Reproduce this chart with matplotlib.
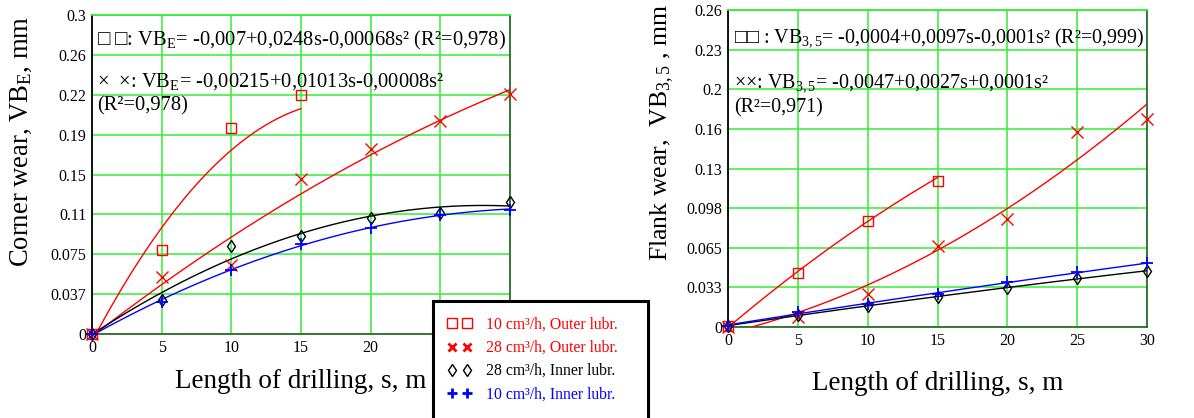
import numpy as np
import matplotlib
matplotlib.use("Agg")
import matplotlib.pyplot as plt
from matplotlib.lines import Line2D
from matplotlib.patches import Rectangle

plt.rcParams['font.family'] = ['Liberation Serif', 'DejaVu Sans']
plt.rcParams['mathtext.fontset'] = 'custom'
plt.rcParams['mathtext.rm'] = 'Liberation Serif'
plt.rcParams['mathtext.it'] = 'Liberation Serif:italic'

s = [0, 5, 10, 15, 20, 25, 30]
s_sq = [0, 5, 10, 15]

# corner wear VB_E, mm
ve_sq = [0.0, 0.079, 0.194, 0.2245]
ve_x = [0.0, 0.0536, 0.065, 0.146, 0.174, 0.2007, 0.226]
ve_dia = [0.0, 0.032, 0.0825, 0.0925, 0.1094, 0.1135, 0.1245]
ve_plus = [0.0, 0.0304, 0.060, 0.0844, 0.100, 0.1122, 0.117]

# flank wear VB_3,5, mm
vf_sq = [0.001, 0.0443, 0.0872, 0.120]
vf_x = [0.0, 0.0085, 0.0268, 0.0667, 0.0886, 0.160, 0.171]
vf_dia = [0.001, 0.0098, 0.0175, 0.0243, 0.0322, 0.0405, 0.0457]
vf_plus = [0.001, 0.0126, 0.0189, 0.0268, 0.0372, 0.0449, 0.0522]

# printed regression coefficients (a + b*s + c*s^2)
coef_ve_sq = [-0.007, 0.0248, -0.00068]
coef_ve_x = [-0.00215, 0.01013, -0.00008]
coef_vf_sq = [-0.0004, 0.0097, -0.0001]

ylim_l = 0.3
ylim_r = 0.26
yticklab_l = ['0', '0.037', '0.075', '0.11', '0.15', '0.19', '0.22', '0.26', '0.3']
yticklab_r = ['0', '0.033', '0.065', '0.098', '0.13', '0.16', '0.2', '0.23', '0.26']
xticklab_l = ['0', '5', '10', '15', '20', '', '']
xticklab_r = ['0', '5', '10', '15', '20', '25', '30']

legend_labels = ['10 cm³/h, Outer lubr.', '28 cm³/h, Outer lubr.',
                 '28 cm³/h, Inner lubr.', '10 cm³/h, Inner lubr.']

RED = '#ff0000'
BLUE = '#0000ff'
GRID = '#33ee33'


def trend(ax, x, y, color, coef=None):
    if coef is None:
        c = np.polyfit(x, y, 2)
    else:
        c = coef[::-1]
    xx = np.linspace(x[0], x[-1], 200)
    ax.plot(xx, np.polyval(c, xx), color=color, lw=1.0, zorder=3)


def setup(ax, ymax, ylabels, xlabels, ylabel, yfs, xpad):
    ax.set_xlim(0, 30)
    ax.set_ylim(0, ymax)
    ax.set_xticks(range(0, 31, 5))
    ax.set_xticklabels(xlabels)
    ax.set_yticks(np.linspace(0, ymax, 9))
    ax.set_yticklabels(ylabels)
    ax.tick_params(length=0, labelsize=11.5, pad=4)
    ax.grid(True, color=GRID, lw=1.1)
    ax.set_axisbelow(True)
    ax.spines['left'].set_color('black')
    ax.spines['bottom'].set_color('#2e6b2e')
    ax.spines['top'].set_color(GRID)
    ax.spines['right'].set_color('#2e6b2e')
    for sp in ax.spines.values():
        sp.set_linewidth(1.3)
    ax.set_xlabel('Length of drilling, s, m', fontsize=19.5, labelpad=xpad)
    ax.set_ylabel(ylabel, fontsize=yfs)


def draw(ax, sq, xx, dia, plus, c_sq=None, c_x=None):
    trend(ax, s_sq, sq, RED, c_sq)
    trend(ax, s, xx, RED, c_x)
    trend(ax, s, dia, 'black')
    trend(ax, s, plus, BLUE)
    ax.plot(s_sq, sq, 's', mfc='none', mec=RED, ms=7, mew=1.0, ls='none', zorder=4, clip_on=False)
    ax.plot(s, xx, 'x', color=RED, ms=8, mew=1.0, ls='none', zorder=4, clip_on=False)
    ax.plot(s, dia, 'd', mfc='none', mec='black', ms=6, mew=1.0, ls='none', zorder=4, clip_on=False)
    ax.plot(s, plus, '+', color=BLUE, ms=8, mew=1.3, ls='none', zorder=4, clip_on=False)


fig = plt.figure(figsize=(11.94, 4.18), dpi=100)
axl = fig.add_axes([0.0771, 0.201, 0.350, 0.763])
axr = fig.add_axes([0.6097, 0.2177, 0.351, 0.758])

setup(axl, ylim_l, yticklab_l, xticklab_l, r'Corner wear, VB$_\mathrm{E}$, mm', 19.2, 10)
setup(axr, ylim_r, yticklab_r, xticklab_r, r'Flank wear,  VB$_\mathrm{3,5}$ , mm', 18.5, 16)
axl.yaxis.set_label_coords(-0.14, 0.605)
axr.yaxis.set_label_coords(-0.123, 0.614)
draw(axl, ve_sq, ve_x, ve_dia, ve_plus, coef_ve_sq, coef_ve_x)
draw(axr, vf_sq, vf_x, vf_dia, vf_plus, coef_vf_sq, None)

fs = 14.8
axl.text(0.012, 0.92, r'□ □: VB$_\mathrm{E}$= -0,007+0,0248s-0,00068s² (R²=0,978)',
         transform=axl.transAxes, fontsize=fs, va='center', ha='left')
axl.text(0.012, 0.825, '×  ×: VB$_\\mathrm{E}$= -0,00215+0,01013s-0,00008s²\n(R²=0,978)',
         transform=axl.transAxes, fontsize=fs, va='top', ha='left', linespacing=1.3)
axr.text(0.014, 0.915, r'□□ : VB$_\mathrm{3,5}$= -0,0004+0,0097s-0,0001s² (R²=0,999)',
         transform=axr.transAxes, fontsize=14.4, va='center', ha='left')
axr.text(0.014, 0.805, '××: VB$_\\mathrm{3,5}$= -0,0047+0,0027s+0,0001s²\n(R²=0,971)',
         transform=axr.transAxes, fontsize=14.4, va='top', ha='left', linespacing=1.3)

# legend box (runs off the bottom edge)
box = Rectangle((433 / 1194, -0.05), (648 - 433) / 1194, 1 - 301 / 418 + 0.05,
                transform=fig.transFigure, facecolor='white', edgecolor='black',
                lw=2.2, zorder=10)
fig.add_artist(box)
handles = [
    Line2D([], [], marker='s', mfc='none', mec=RED, ms=7, ls='none'),
    Line2D([], [], marker='x', color=RED, ms=6, mew=2, ls='none'),
    Line2D([], [], marker='d', mfc='none', mec='black', ms=6, ls='none'),
    Line2D([], [], marker='+', color=BLUE, ms=7, mew=2, ls='none'),
]
leg = fig.legend(handles, legend_labels, loc='upper left',
                 bbox_to_anchor=(436 / 1194, 1 - 306 / 418), frameon=False,
                 numpoints=2, fontsize=11.3, labelspacing=0.45, handlelength=1.6,
                 handletextpad=0.9, borderpad=0.2)
for t, c in zip(leg.get_texts(), [RED, RED, 'black', BLUE]):
    t.set_color(c)
leg.set_zorder(11)

fig.savefig('out.png', dpi=100)
